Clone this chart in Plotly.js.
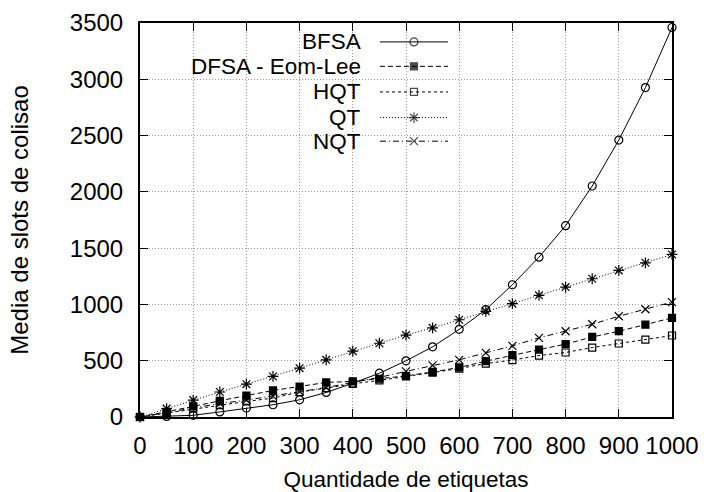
<!DOCTYPE html>
<html>
<head>
<meta charset="utf-8">
<script src="https://cdn.plot.ly/plotly-3.0.1.min.js"></script>
<style>
html,body{margin:0;padding:0;background:#fff;}
#chart{width:704px;height:492px;}
</style>
</head>
<body>
<div id="chart"></div>
<script>
// ---- data ----
const etiquetas = [0,50,100,150,200,250,300,350,400,450,500,550,600,650,700,750,800,850,900,950,1000];
const bfsa = [0,5,15,45,80,109,153,218,300,389,499,623,779,954,1175,1420,1700,2052,2460,2926,3460];
const dfsa = [0,45,94,144,190,236,271,307,316,340,365,400,440,496,549,599,647,711,762,821,880];
const hqt  = [0,35,74,105,138,168,222,257,295,325,360,395,430,475,505,546,573,617,653,688,724];
const qt   = [0,75,150,222,292,360,434,508,585,655,728,792,864,939,1007,1081,1154,1228,1302,1370,1444];
const nqt  = [0,40,85,120,150,185,225,262,305,352,405,458,508,570,632,703,762,824,895,957,1021];
const seriesNames = ["BFSA","DFSA - Eom-Lee","HQT","QT","NQT"];
const xTicks = [0,100,200,300,400,500,600,700,800,900,1000];
const yTicks = [0,500,1000,1500,2000,2500,3000,3500];
const xTitle = "Quantidade de etiquetas";
const yTitle = "Media de slots de colisao";

const FONT = "Liberation Sans, Arial, Helvetica, sans-serif";
const styles = [
  {dash:"solid", symbol:"circle-open", size:8},
  {dash:"5px,3px", symbol:"square", size:7},
  {dash:"3px,3px", symbol:"square-open", size:7},
  {dash:"1px,2px", symbol:"asterisk-open", size:9},
  {dash:"6px,3px,1px,3px", symbol:"x-thin-open", size:8}
];
const allY = [bfsa, dfsa, hqt, qt, nqt];

const traces = allY.map((ys,i)=>({
  x: etiquetas, y: ys, type:"scatter", mode:"lines+markers", name: seriesNames[i],
  line:{color:"#000", width:1, dash:styles[i].dash},
  marker:{symbol:styles[i].symbol, size:styles[i].size, color:"#000", line:{color:"#000", width:1.2}},
  showlegend:false, xaxis:"x", yaxis:"y", cliponaxis:false
}));

// manual legend (text right-aligned, sample on the right) on an overlay axis in [0,1]
const legRows = [0.952, 0.890, 0.825, 0.760, 0.700];
const legX = [0.451, 0.515, 0.579];
const annotations = [];
seriesNames.forEach((nm,i)=>{
  traces.push({
    x: legX, y:[legRows[i],legRows[i],legRows[i]], type:"scatter", mode:"lines+markers",
    line:{color:"#000", width:1, dash:styles[i].dash},
    marker:{symbol:styles[i].symbol, size:[0,styles[i].size,0], color:"#000", line:{color:"#000", width:1.2}},
    showlegend:false, xaxis:"x2", yaxis:"y2", hoverinfo:"skip"
  });
  annotations.push({
    xref:"paper", yref:"paper", x:0.419, y:legRows[i], xanchor:"right", yanchor:"middle",
    text: nm, showarrow:false, font:{family:FONT, size:22.5, color:"#000"}
  });
});

const layout = {
  width:704, height:492,
  margin:{l:140, r:32, t:23, b:75, pad:0},
  paper_bgcolor:"#fff", plot_bgcolor:"#fff",
  font:{family:FONT, size:24, color:"#000"},
  showlegend:false,
  xaxis:{
    range:[0,1000], tickvals:xTicks, ticktext:xTicks.map(String),
    tickfont:{family:FONT, size:24},
    ticks:"inside", ticklen:8, tickcolor:"#000", tickwidth:1,
    showline:true, linecolor:"#000", linewidth:2, mirror:"ticks",
    showgrid:true, gridcolor:"#9a9a9a", griddash:"1px,2px", gridwidth:1,
    zeroline:false, ticklabelstandoff:6,
    title:{text:xTitle, font:{family:FONT, size:22.5}, standoff:17}
  },
  yaxis:{
    range:[0,3500], tickvals:yTicks, ticktext:yTicks.map(String),
    tickfont:{family:FONT, size:24},
    ticks:"inside", ticklen:8, tickcolor:"#000", tickwidth:1,
    showline:true, linecolor:"#000", linewidth:2, mirror:"ticks",
    showgrid:true, gridcolor:"#9a9a9a", griddash:"1px,2px", gridwidth:1,
    zeroline:false, ticklabelstandoff:10,
    title:{text:yTitle, font:{family:FONT, size:24}, standoff:34}
  },
  xaxis2:{range:[0,1], overlaying:"x", visible:false, fixedrange:true},
  yaxis2:{range:[0,1], overlaying:"y", visible:false, fixedrange:true},
  annotations: annotations
};

Plotly.newPlot("chart", traces, layout, {staticPlot:true, displayModeBar:false});
</script>
</body>
</html>
